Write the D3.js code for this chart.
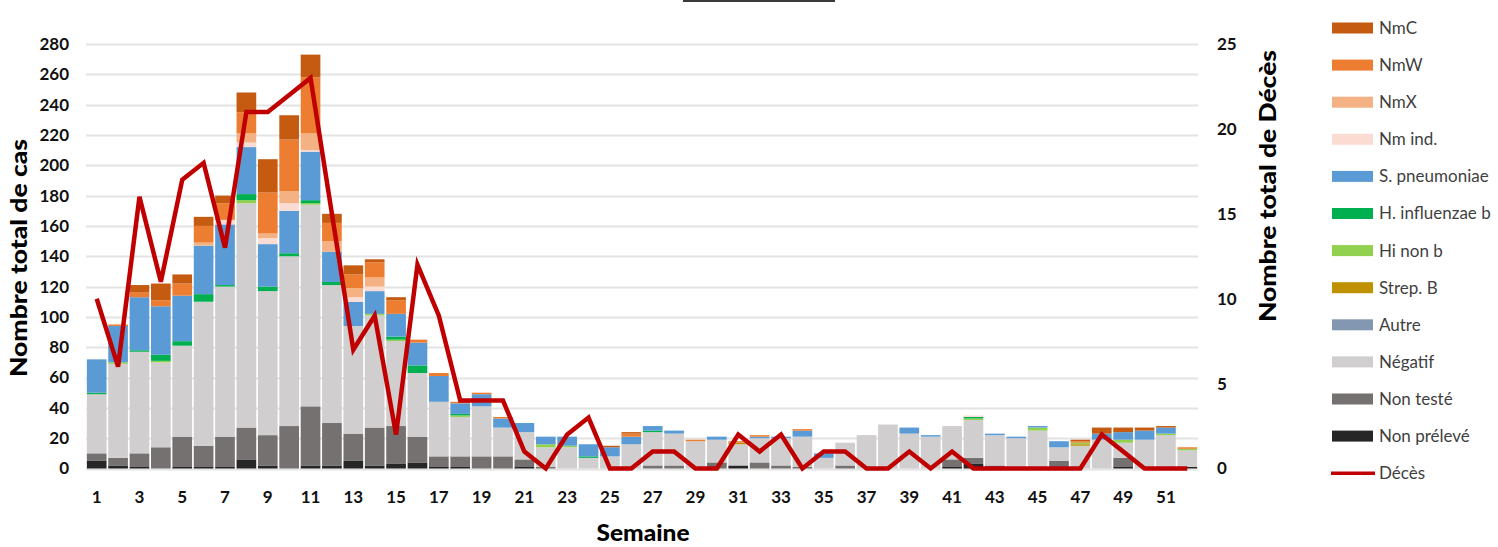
<!DOCTYPE html>
<html lang="fr">
<head>
<meta charset="UTF-8">
<title>Cas et décès par semaine</title>
<script src="https://d3js.org/d3.v7.min.js"></script>
<style>
  body { margin: 0; background: #fff; }
  svg { display: block; font-family: Lato, "Liberation Sans", sans-serif; }
  .tick-lbl { font-size: 17px; font-weight: bold; fill: #111; }
  .axis-title { font-size: 23px; font-weight: 900; fill: #000; }
  .legend text { font-size: 17px; fill: #3f3f3f; }
</style>
</head>
<body>
<script>
// weeks 1..52
const weeks = d3.range(1, 53);

// stack order, bottom -> top
const nonPreleve = [5,2,1,0,1,1,1,6,2,0,2,2,5,2,3,4,1,1,0,0,1,0,0,0,0,0,0,0,0,0,2,0,0,0,0,0,0,0,0,0,1,3,0,0,0,0,0,0,1,0,0,1];
const nonTeste   = [5,5,9,14,20,14,20,21,20,28,39,28,18,25,25,17,7,7,8,8,5,1,0,0,0,0,2,2,0,4,0,4,2,1,0,2,0,0,0,0,5,4,2,0,0,5,0,0,6,0,0,0];
const negatif    = [39,62,67,56,60,95,99,148,95,112,133,91,71,74,56,42,36,26,33,19,18,13,14,7,8,16,22,21,18,15,14,16,18,20,7,15,22,29,23,21,22,25,20,20,25,9,15,19,10,19,22,11];
const autre      = [0,0,0,0,0,0,0,0,0,0,0,0,0,0,0,0,0,0,0,0,0,0,0,0,0,0,0,0,0,0,0,0,0,0,0,0,0,0,0,0,0,0,0,0,0,0,0,0,0,0,0,0];
const strepB     = [0,0,0,0,0,0,0,0,0,0,0,0,0,0,0,0,0,0,0,0,0,0,0,0,0,0,0,0,0,0,1,0,0,0,0,0,0,0,0,0,0,0,0,0,0,0,1,0,0,0,0,0];
const hiNonB     = [0,1,0,1,0,0,0,2,0,0,1,0,0,1,1,0,0,1,0,0,0,2,1,0,0,0,0,0,0,0,0,0,0,0,0,0,0,0,0,0,0,1,0,0,2,0,1,0,2,0,1,1];
const hib        = [1,0,1,4,3,5,1,4,3,2,2,2,0,0,2,5,0,1,0,0,0,0,0,1,0,0,1,0,0,0,0,0,0,0,0,0,0,0,0,0,0,1,0,0,0,0,0,0,0,0,0,0];
const sPneumo    = [22,24,35,32,30,32,40,31,28,28,32,20,16,15,15,15,17,7,8,6,6,5,6,8,6,5,3,2,0,2,0,1,1,4,3,0,0,0,4,1,0,0,1,1,1,4,0,4,5,6,4,0];
const nmInd      = [0,0,0,0,0,0,3,3,4,5,1,0,3,3,0,0,0,0,0,0,0,0,0,0,0,0,0,0,0,0,0,0,0,0,0,0,0,0,0,0,0,1,0,0,0,0,0,0,0,0,0,0];
const nmX        = [0,0,0,0,0,2,0,6,3,8,11,7,6,6,0,0,0,0,0,0,0,0,0,0,0,0,0,0,0,0,0,0,0,0,0,0,0,0,0,0,0,0,0,0,0,0,0,0,0,0,0,0];
const nmW        = [0,1,3,4,8,11,11,14,27,34,37,12,9,10,9,2,2,1,1,1,0,0,0,0,0,2,0,0,1,0,1,1,0,1,0,0,0,0,0,0,0,0,0,0,0,0,1,0,0,0,0,1];
const nmC        = [0,0,5,11,6,6,5,13,22,16,15,6,6,2,2,0,0,0,0,0,0,0,0,0,1,1,0,0,0,0,0,0,0,0,0,0,0,0,0,0,0,0,0,0,0,0,1,4,3,2,1,0];
const deces      = [10,6,16,11,17,18,13,21,21,22,23,15,7,9,2,12,9,4,4,4,1,0,2,3,0,0,1,1,0,0,2,1,2,0,1,1,0,0,1,0,1,0,0,0,0,0,0,2,1,0,0,0];

const series = [
  {name: "Non prélevé",     values: nonPreleve, color: "#262626"},
  {name: "Non testé",       values: nonTeste,   color: "#767171"},
  {name: "Négatif",         values: negatif,    color: "#d0cece"},
  {name: "Autre",           values: autre,      color: "#8497b0"},
  {name: "Strep. B",        values: strepB,     color: "#bf9000"},
  {name: "Hi non b",        values: hiNonB,     color: "#92d050"},
  {name: "H. influenzae b", values: hib,        color: "#00b050"},
  {name: "S. pneumoniae",   values: sPneumo,    color: "#5b9bd5"},
  {name: "Nm ind.",         values: nmInd,      color: "#fbdcd3"},
  {name: "NmX",             values: nmX,        color: "#f4b183"},
  {name: "NmW",             values: nmW,        color: "#ed7d31"},
  {name: "NmC",             values: nmC,        color: "#c55a11"}
];

const leftTicks = d3.range(0, 281, 20);
const rightTicks = [0, 5, 10, 15, 20, 25];
const xTicks = weeks.filter(w => w % 2 === 1);

const W = 1498, H = 547;
const svg = d3.select("body").append("svg")
    .attr("width", W)
    .attr("height", H);

const x = d3.scaleBand().domain(weeks).range([86, 1198]).paddingInner(0.08).paddingOuter(0.04);
const y = d3.scaleLinear().domain([0, 280]).range([468.5, 44]);
const y2 = d3.scaleLinear().domain([0, 25]).range([468.5, 44]);

// clipped title border at the very top
svg.append("rect").attr("x", 683).attr("y", 0).attr("width", 152).attr("height", 2).attr("fill", "#3a3a3a");

// gridlines
svg.append("g").selectAll("line")
    .data(leftTicks)
    .join("line")
    .attr("x1", 86).attr("x2", 1198)
    .attr("y1", d => Math.round(y(d)) + 0.5)
    .attr("y2", d => Math.round(y(d)) + 0.5)
    .attr("stroke", "#e3e3e3")
    .attr("stroke-width", 2);

// stacked bars
const table = weeks.map((w, i) => {
  const row = {week: w};
  series.forEach(s => row[s.name] = s.values[i]);
  return row;
});
const stacked = d3.stack().keys(series.map(s => s.name))(table);

svg.append("g").selectAll("g")
    .data(stacked)
    .join("g")
    .attr("fill", (d, i) => series[i].color)
    .selectAll("rect")
    .data(d => d.filter(p => p[1] > p[0]))
    .join("rect")
    .attr("x", d => x(d.data.week))
    .attr("width", x.bandwidth())
    .attr("y", d => y(d[1]))
    .attr("height", d => y(d[0]) - y(d[1]));

// deaths line
const line = d3.line()
    .x((d, i) => x(weeks[i]) + x.bandwidth() / 2)
    .y(d => y2(d));

svg.append("path")
    .datum(deces)
    .attr("d", line)
    .attr("fill", "none")
    .attr("stroke", "#c00000")
    .attr("stroke-width", 4.5)
    .attr("stroke-linejoin", "miter");

// left axis labels
svg.append("g").selectAll("text")
    .data(leftTicks)
    .join("text")
    .attr("class", "tick-lbl")
    .attr("x", 69)
    .attr("y", d => y(d))
    .attr("dy", "0.35em")
    .attr("text-anchor", "end")
    .text(d => d);

// right axis labels
svg.append("g").selectAll("text")
    .data(rightTicks)
    .join("text")
    .attr("class", "tick-lbl")
    .attr("x", 1217)
    .attr("y", d => y2(d))
    .attr("dy", "0.35em")
    .text(d => d);

// x labels
svg.append("g").selectAll("text")
    .data(xTicks)
    .join("text")
    .attr("class", "tick-lbl")
    .attr("x", d => x(d) + x.bandwidth() / 2)
    .attr("y", 503)
    .attr("text-anchor", "middle")
    .text(d => d);

// axis titles
svg.append("text")
    .attr("class", "axis-title")
    .attr("x", 643).attr("y", 541)
    .attr("text-anchor", "middle")
    .attr("textLength", 93)
    .attr("lengthAdjust", "spacingAndGlyphs")
    .text("Semaine");

svg.append("text")
    .attr("class", "axis-title")
    .attr("transform", "translate(27,258) rotate(-90)")
    .attr("text-anchor", "middle")
    .attr("textLength", 238)
    .attr("lengthAdjust", "spacingAndGlyphs")
    .text("Nombre total de cas");

svg.append("text")
    .attr("class", "axis-title")
    .attr("transform", "translate(1276,186) rotate(-90)")
    .attr("text-anchor", "middle")
    .attr("textLength", 272)
    .attr("lengthAdjust", "spacingAndGlyphs")
    .text("Nombre total de Décès");

// legend, top -> bottom
const legendItems = series.slice().reverse();
const legend = svg.append("g").attr("class", "legend");
const rowY = i => 28 + i * 37.1;

legend.selectAll("rect")
    .data(legendItems)
    .join("rect")
    .attr("x", 1332).attr("width", 41)
    .attr("y", (d, i) => rowY(i) - 5.5)
    .attr("height", 11)
    .attr("fill", d => d.color);

legend.selectAll("text.item")
    .data(legendItems.map(d => d.name).concat(["Décès"]))
    .join("text")
    .attr("class", "item")
    .attr("x", 1379)
    .attr("y", (d, i) => rowY(i))
    .attr("dy", "0.35em")
    .text(d => d);

legend.append("line")
    .attr("x1", 1331).attr("x2", 1375)
    .attr("y1", rowY(12)).attr("y2", rowY(12))
    .attr("stroke", "#c00000")
    .attr("stroke-width", 3.5);
</script>
</body>
</html>
